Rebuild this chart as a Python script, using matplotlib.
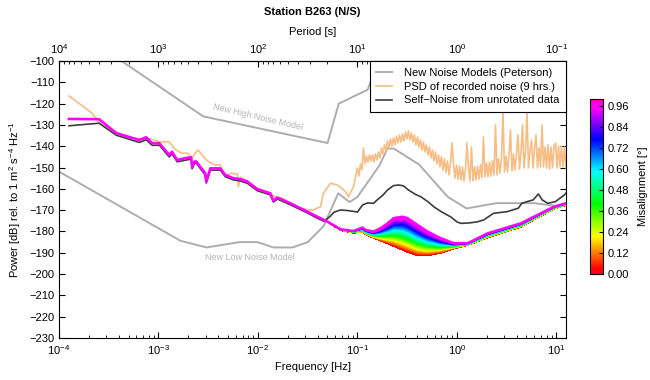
import numpy as np
import matplotlib
matplotlib.use("Agg")
import matplotlib.pyplot as plt
from matplotlib import colors, cm
from matplotlib.ticker import NullLocator, FixedLocator, LogLocator

plt.rcParams['font.family'] = ['Liberation Sans', 'DejaVu Sans']
plt.rcParams['font.size'] = 8
plt.rcParams['mathtext.fontset'] = 'custom'
plt.rcParams['mathtext.rm'] = 'Liberation Sans'
plt.rcParams['mathtext.it'] = 'Liberation Sans:italic'
plt.rcParams['mathtext.bf'] = 'Liberation Sans:bold'

# Peterson noise models (period [s], power [dB])
nlnm_period = [0.1, 0.17, 0.4, 0.8, 1.24, 2.4, 4.3, 5.0, 6.0, 10.0, 12.0, 15.6, 21.9,
               31.6, 45.0, 70.0, 101.0, 154.0, 328.0, 600.0, 10000.0, 100000.0]
nlnm_db = [-168.0, -166.7, -166.7, -169.2, -163.7, -148.6, -141.1, -141.1, -149.0, -163.8,
           -166.2, -162.1, -177.5, -185.0, -187.5, -187.5, -185.0, -185.0, -187.5, -184.4,
           -151.9, -103.1]
nhnm_period = [0.1, 0.22, 0.32, 0.8, 3.8, 4.6, 6.3, 7.9, 15.4, 20.0, 354.8, 100000.0]
nhnm_db = [-91.5, -97.4, -110.5, -120.0, -98.0, -96.5, -101.0, -113.5, -120.0, -138.5,
           -126.0, -48.5]

# PSD of recorded noise (9 hrs.), long periods
psd_low_hz = [1.26e-4, 2.15e-4, 2.53e-4, 3.26e-4, 4.62e-4, 6.40e-4, 8.25e-4, 1.04e-3,
              1.28e-3, 1.47e-3, 1.73e-3, 1.95e-3, 2.18e-3, 2.40e-3, 2.51e-3, 2.82e-3,
              3.17e-3, 3.73e-3, 4.18e-3, 4.70e-3, 5.27e-3, 6.21e-3, 6.35e-3, 6.65e-3,
              8.0e-3, 9.86e-3, 1.24e-2, 1.50e-2, 1.76e-2, 2.12e-2, 2.67e-2, 3.14e-2,
              3.61e-2, 4.25e-2, 4.56e-2, 5.36e-2, 6.31e-2, 7.59e-2, 8.13e-2, 9.13e-2]
psd_low_db = [-116.4, -124.5, -129.0, -132.0, -135.5, -136.5, -136.5, -138.0, -137.9,
              -141.5, -143.3, -143.3, -145.5, -142.5, -141.8, -144.9, -147.2, -148.8,
              -148.8, -154.3, -152.7, -153.0, -159.0, -154.5, -156.6, -159.7, -161.3,
              -163.7, -164.5, -166.8, -169.1, -169.9, -169.9, -168.4, -162.0, -157.4,
              -158.2, -161.3, -163.7, -159.0]
# PSD above 0.1 Hz, one value per frequency bin (bins evenly spaced in log f)
psd_high_db = [
    -150.2, -154.0, -148.3, -151.2, -140.8, -148.3, -144.6, -147.4, -144.1, -146.9,
    -144.1, -147.4, -143.6, -146.5, -142.7, -145.5, -140.8, -143.6, -139.4, -142.2,
    -137.5, -140.8, -136.6, -139.9, -136.1, -139.4, -135.2, -138.5, -134.7, -138.0,
    -134.3, -137.5, -133.3, -136.6, -132.8, -137.1, -133.8, -138.0, -134.7, -139.4,
    -135.7, -140.4, -137.1, -141.8, -138.0, -142.7, -139.4, -144.1, -140.4, -145.5,
    -141.8, -146.9, -142.7, -148.3, -144.1, -149.7, -145.0, -151.2, -146.0, -152.1,
    -146.9, -153.5, -147.9, -138.5, -148.3, -154.9, -148.8, -155.4, -149.3, -155.8,
    -149.7, -156.3, -150.2, -138.5, -150.2, -156.3, -140.4, -156.3, -149.7, -155.8,
    -149.3, -155.4, -148.8, -154.9, -135.7, -154.4, -147.9, -154.4, -147.4, -154.0,
    -146.9, -153.5, -130.0, -153.5, -146.0, -152.6, -145.0, -124.4, -152.1, -144.6,
    -152.1, -144.1, -132.4, -151.6, -143.6, -151.2, -143.6, -134.7, -150.7, -142.7,
    -130.0, -150.2, -142.2, -124.4, -150.2, -141.8, -137.1, -150.2, -141.3, -134.7,
    -150.2, -140.8, -149.7, -130.0, -149.7, -140.4, -150.2, -139.4, -150.7, -140.4,
    -150.2, -139.9, -138.5, -150.2, -139.9, -149.7, -139.9, -149.7, -140.4, -150.2]
psd_high_hz = np.logspace(-1.0, np.log10(12.5), len(psd_high_db))

# self-noise from unrotated data
raw_hz = [1.26e-4, 2.53e-4, 3.75e-4, 6.40e-4, 7.52e-4, 8.65e-4, 1.02e-3, 1.28e-3, 1.37e-3,
          1.54e-3, 1.90e-3, 2.13e-3, 2.18e-3, 2.30e-3, 2.40e-3, 2.95e-3, 3.02e-3, 3.32e-3,
          4.18e-3, 4.70e-3, 5.65e-3, 6.65e-3, 7.82e-3, 9.86e-3, 1.33e-2, 1.43e-2, 1.57e-2,
          2.12e-2, 3.14e-2, 3.96e-2, 4.6e-2, 5.3e-2, 5.8e-2, 6.76e-2, 8.0e-2, 9.5e-2, 0.1,
          0.1125, 0.1264, 0.145, 0.158, 0.18, 0.201, 0.23, 0.259, 0.29, 0.325, 0.38, 0.436,
          0.51, 0.59, 0.70, 0.87, 1.0, 1.1, 1.33, 1.6, 1.86, 2.33, 3.2, 4.13, 4.5, 5.07, 5.84,
          6.6, 7.2, 8.2, 9.77, 12.0, 12.5]
raw_db = [-130.4, -129.2, -134.8, -138.2, -137.0, -139.6, -139.5, -145.0, -143.6, -147.3,
          -146.5, -146.0, -150.6, -148.0, -148.0, -153.5, -157.3, -151.2, -151.2, -154.3,
          -155.8, -156.3, -157.4, -160.9, -162.8, -166.2, -164.8, -167.5, -171.3, -173.8,
          -175.2, -173.0, -171.0, -169.9, -170.2, -170.7, -170.9, -167.6, -166.6, -166.8,
          -165.2, -163.0, -160.5, -158.5, -158.2, -158.6, -160.5, -162.5, -163.8, -166.0,
          -168.5, -170.8, -173.2, -175.5, -176.2, -176.0, -175.5, -174.6, -171.5, -170.7,
          -169.1, -166.8, -166.0, -165.2, -162.4, -165.2, -166.8, -166.0, -162.9, -162.0]

# self-noise after rotation, misalignment 1 deg (upper edge)
self_hz = [1.26e-4, 2.53e-4, 3.75e-4, 6.40e-4, 7.52e-4, 8.65e-4, 1.02e-3, 1.28e-3, 1.37e-3,
           1.54e-3, 1.90e-3, 2.13e-3, 2.18e-3, 2.30e-3, 2.40e-3, 2.95e-3, 3.02e-3, 3.32e-3,
           4.18e-3, 4.70e-3, 5.65e-3, 6.65e-3, 7.82e-3, 9.86e-3, 1.33e-2, 1.43e-2, 1.57e-2,
           2.12e-2, 3.14e-2, 3.96e-2, 5.0e-2, 6.76e-2, 9.13e-2, 0.1125, 0.1208, 0.145, 0.171,
           0.201, 0.231, 0.284, 0.319, 0.403, 0.508, 0.687, 0.929, 1.285, 2.04, 4.39, 9.44,
           12.5]
self_db = [-127.2, -127.3, -133.8, -137.1, -135.8, -138.6, -138.6, -144.1, -142.6, -146.5,
           -145.5, -145.2, -150.0, -147.2, -147.2, -152.7, -156.6, -150.4, -150.4, -153.5,
           -155.0, -155.5, -156.6, -160.2, -162.1, -165.6, -164.1, -166.8, -170.7, -173.1,
           -175.4, -179.0, -179.8, -178.2, -179.3, -180.1, -178.5, -176.2, -173.8, -173.1,
           -173.8, -177.0, -180.1, -183.2, -185.5, -185.5, -180.9, -176.2, -168.4, -166.8]

# spread of self-noise with misalignment 0 .. 1 deg
band_hz = [5.0e-2, 6.76e-2, 9.13e-2, 0.1125, 0.1208, 0.145, 0.171, 0.201, 0.231, 0.284,
           0.319, 0.403, 0.508, 0.687, 0.929, 1.285, 2.04, 4.39, 9.44, 12.5]
band_min_db = [-175.8, -179.6, -180.8, -180.5, -181.5, -183.2, -184.5, -185.8, -187.0, -188.8,
               -189.8, -191.4, -191.4, -190.2, -188.2, -186.6, -183.0, -178.0, -169.6, -167.8]
band_max_db = [-175.4, -179.0, -179.8, -178.2, -179.3, -180.1, -178.5, -176.2, -173.8, -173.1,
               -173.8, -177.0, -180.1, -183.2, -185.5, -185.5, -180.9, -176.2, -168.4, -166.8]
misalign_min = 0.0
misalign_max = 1.0
cbar_ticks = [0.0, 0.12, 0.24, 0.36, 0.48, 0.60, 0.72, 0.84, 0.96]

period_ticks = [1e4, 1e3, 1e2, 1e1, 1e0, 1e-1]
period_labels = ['$10^{4}$', '$10^{3}$', '$10^{2}$', '$10^{1}$', '$10^{0}$', '$10^{-1}$']

gray = '#adadad'
orange = '#f6bd85'
dark = '#3c3c3c'
cmap = plt.get_cmap('gist_rainbow')
norm = colors.Normalize(vmin=misalign_min, vmax=misalign_max)

fig = plt.figure(figsize=(6.5, 3.8), dpi=100)
ax = fig.add_axes([0.0908, 0.1105, 0.7800, 0.7290])

ax.plot(1.0 / np.array(nhnm_period), nhnm_db, color=gray, lw=1.4, zorder=1)
ax.plot(1.0 / np.array(nlnm_period), nlnm_db, color=gray, lw=1.4, zorder=1,
        label='New Noise Models (Peterson)')
psd_hz = np.concatenate([psd_low_hz, psd_high_hz])
psd_db = np.concatenate([psd_low_db, psd_high_db])
ax.plot(psd_hz, psd_db, color=orange, lw=1.2, zorder=2,
        label='PSD of recorded noise (9 hrs.)')
ax.plot(raw_hz, raw_db, color=dark, lw=1.2, zorder=3,
        label='Self\u2212Noise from unrotated data')

n = len(band_hz)
X = np.vstack([band_hz, band_hz])
Y = np.vstack([band_min_db, band_max_db])
Z = np.vstack([np.full(n, misalign_min), np.full(n, misalign_max)])
ax.contourf(X, Y, Z, levels=np.linspace(misalign_min, misalign_max, 81), cmap=cmap,
            norm=norm, antialiased=False, zorder=4)
ax.plot(self_hz, self_db, color='#ff00ff', lw=1.9, zorder=5)

ax.text(9.86e-3, -126.3, 'New High Noise Model', color='#b4b4b4', fontsize=6.5,
        rotation=-13.3, ha='center', va='center', rotation_mode='anchor')
ax.text(8.28e-3, -192.4, 'New Low Noise Model', color='#b4b4b4', fontsize=6.5,
        ha='center', va='center')

ax.set_xscale('log')
ax.set_xlim(1e-4, 12.5)
ax.set_ylim(-230, -100)
ax.set_yticks(np.arange(-230, -99, 10))
ax.yaxis.set_minor_locator(NullLocator())
ax.tick_params(which='both', direction='in', top=False, right=True)
ax.tick_params(which='major', length=4)
ax.tick_params(which='minor', length=2)
ax.set_xlabel('Frequency [Hz]')
ax.set_ylabel('Power [dB] rel. to 1 m$^2$ s$^{-4}$ Hz$^{-1}$', labelpad=4)

secax = ax.secondary_xaxis('top', functions=(lambda f: 1.0 / f, lambda p: 1.0 / p))
secax.xaxis.set_major_locator(FixedLocator(period_ticks))
secax.set_xticklabels(period_labels)
secax.xaxis.set_minor_locator(LogLocator(base=10, subs=np.arange(2, 10), numticks=20))
secax.tick_params(which='both', direction='in')
secax.tick_params(which='major', length=4)
secax.tick_params(which='minor', length=2)
secax.set_xlabel('Period [s]', labelpad=5)

leg = ax.legend(loc='upper right', borderaxespad=0, fancybox=False, edgecolor='black',
                framealpha=1, handlelength=1.4, handletextpad=1.1, labelspacing=0.35,
                borderpad=0.6)
leg.get_frame().set_linewidth(0.8)
leg.set_zorder(10)

fig.text(312.5 / 650, 1 - 12 / 380, 'Station B263 (N/S)', fontweight='bold',
         ha='center', va='center', fontsize=8)

cax = fig.add_axes([0.9077, 0.279, 0.02, 0.46])
sm = cm.ScalarMappable(norm=norm, cmap=cmap)
cbar = fig.colorbar(sm, cax=cax, ticks=cbar_ticks, format='%.2f')
cbar.ax.tick_params(direction='in', length=3)
cbar.outline.set_linewidth(0.8)
cbar.set_label('Misalignment [\u00b0]', labelpad=6)

fig.savefig('out.png', dpi=100)
